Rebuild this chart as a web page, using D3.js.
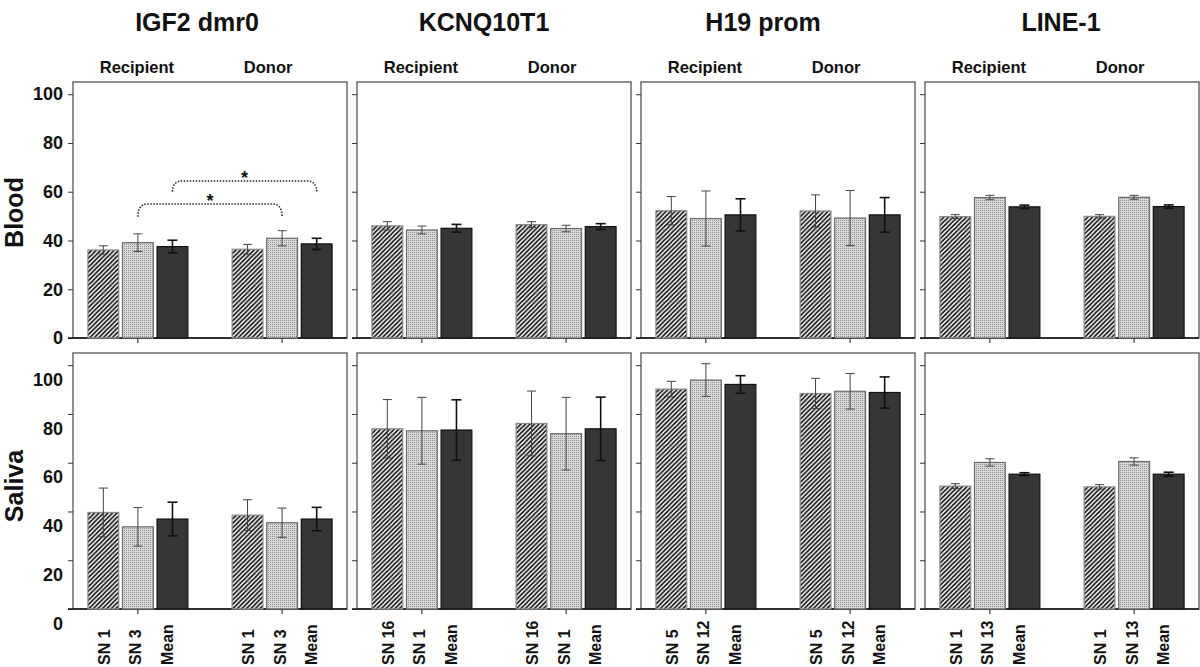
<!DOCTYPE html>
<html><head><meta charset="utf-8">
<script src="https://cdn.jsdelivr.net/npm/d3@7"></script>
<style>
body{margin:0;background:#fff}
svg{display:block;font-family:"Liberation Sans",Arial,Helvetica,sans-serif;font-weight:bold}
</style>
</head><body><svg id="c" width="1200" height="667"></svg>
<script>
// ---------------- data ----------------
const genes = ["IGF2 dmr0", "KCNQ10T1", "H19 prom", "LINE-1"];
const tissues = ["Blood", "Saliva"];
const groups = ["Recipient", "Donor"];
const sampleLabels = [
  ["SN 1", "SN 3", "Mean"],
  ["SN 16", "SN 1", "Mean"],
  ["SN 5", "SN 12", "Mean"],
  ["SN 1", "SN 13", "Mean"]
];
const yTicks = [0, 20, 40, 60, 80, 100];

// [gene][group][sample]
const bloodMeans = [
  [[36.1, 39.1, 37.5], [36.4, 40.9, 38.6]],
  [[46.0, 44.3, 45.0], [46.5, 44.9, 45.7]],
  [[52.2, 49.0, 50.5], [52.1, 49.2, 50.5]],
  [[49.8, 57.6, 53.8], [49.9, 57.7, 53.9]]
];
const bloodErrors = [
  [[1.7, 3.6, 2.6], [2.0, 3.1, 2.3]],
  [[1.7, 1.6, 1.6], [1.2, 1.35, 1.2]],
  [[5.8, 11.3, 6.6], [6.6, 11.3, 7.1]],
  [[0.8, 0.9, 0.7], [0.7, 0.8, 0.7]]
];
const salivaMeans = [
  [[39.6, 33.7, 36.9], [38.5, 35.4, 36.9]],
  [[73.9, 73.1, 73.4], [76.1, 71.9, 73.9]],
  [[90.2, 93.9, 92.1], [88.4, 89.3, 88.8]],
  [[50.4, 60.1, 55.3], [50.1, 60.5, 55.3]]
];
const salivaErrors = [
  [[10.0, 7.9, 6.9], [6.3, 6.0, 4.8]],
  [[12.0, 13.7, 12.4], [13.3, 14.9, 13.0]],
  [[3.2, 6.7, 3.6], [6.2, 7.3, 6.4]],
  [[1.0, 1.5, 0.6], [0.9, 1.5, 0.8]]
];
// significance brackets (IGF2 dmr0, Blood): sample index, bracket top, bracket ends
const sigSample = [1, 2];
const sigTop = [55, 64.4];
const sigEnd = [49.7, 60];
const sigMark = ["*", "*"];

// ---------------- layout ----------------
const svg = d3.select("#c");
const panelW = 274, panelStep = 284, firstLeft = 73;
const rows = [{top: 82, bottom: 338, labelShift: 0, labelY: 212.5},
              {top: 353, bottom: 609, labelShift: 14.5, labelY: 486}];
const titleDx = [-13, -10, -15, -1];
const means = [bloodMeans, salivaMeans];
const errs = [bloodErrors, salivaErrors];

// patterns
const defs = svg.append("defs");
const hatch = defs.append("pattern").attr("id", "hatch").attr("patternUnits", "userSpaceOnUse")
  .attr("width", 4.5).attr("height", 4.5);
hatch.append("rect").attr("width", 4.5).attr("height", 4.5).attr("fill", "#fff");
hatch.append("path").attr("d", "M-1,1 l2,-2 M0,4.5 l4.5,-4.5 M3.5,5.5 l2,-2")
  .attr("stroke", "#111").attr("stroke-width", 1.7);
const stip = defs.append("pattern").attr("id", "stip").attr("patternUnits", "userSpaceOnUse")
  .attr("width", 2).attr("height", 2);
stip.append("rect").attr("width", 2).attr("height", 2).attr("fill", "#d8d8d8");
stip.append("rect").attr("width", 1).attr("height", 1).attr("fill", "#929292");

const fills = ["url(#hatch)", "url(#stip)", "#363636"];
const strokes = ["#8a8a8a", "#6a6a6a", "#111"];
const errStroke = ["#444", "#444", "#111"];
const errWidth = [1, 1, 1.6];

genes.forEach((gene, gi) => {
  const left = firstLeft + gi * panelStep;
  const xg = d3.scaleBand().domain(groups).range([left, left + panelW])
    .paddingInner(0.3).paddingOuter(0.1);
  const xs = d3.scaleBand().domain([0, 1, 2]).range([0, xg.bandwidth()]).paddingInner(0.08);

  // title
  svg.append("text").attr("x", left + panelW / 2 + titleDx[gi]).attr("y", 31)
    .attr("text-anchor", "middle").attr("font-size", 25).attr("fill", "#111").text(gene);

  tissues.forEach((tissue, ti) => {
    const row = rows[ti];
    const y = d3.scaleLinear().domain([0, 105]).range([row.bottom, row.top]);
    const g = svg.append("g");

    // frame
    g.append("rect").attr("x", left).attr("y", row.top).attr("width", panelW)
      .attr("height", row.bottom - row.top).attr("fill", "none")
      .attr("stroke", "#555").attr("stroke-width", 1.3);

    // y axis ticks
    const ya = g.append("g").attr("transform", `translate(${left},0)`)
      .call(d3.axisLeft(y).tickValues(yTicks).tickSize(5).tickPadding(5)
        .tickFormat(gi === 0 ? d3.format("d") : () => ""));
    ya.select(".domain").remove();
    ya.selectAll("line").attr("stroke", "#333");
    ya.selectAll("text").attr("font-size", 18).attr("fill", "#111")
      .attr("font-family", "Liberation Sans, Arial, sans-serif").attr("font-weight", "bold")
      .attr("transform", `translate(0,${row.labelShift})`);

    // x axis
    const xa = g.append("g").attr("transform", `translate(0,${row.bottom})`)
      .call(d3.axisBottom(xg).tickSize(5).tickFormat(() => ""));
    xa.select(".domain").remove();
    xa.selectAll("line").attr("stroke", "#111");
    g.append("line").attr("x1", left - 5).attr("x2", left + panelW)
      .attr("y1", row.bottom).attr("y2", row.bottom).attr("stroke", "#111").attr("stroke-width", 1.5);

    // bars
    groups.forEach((grp, gri) => {
      [0, 1, 2].forEach(si => {
        const v = means[ti][gi][gri][si];
        const e = errs[ti][gi][gri][si];
        const bx = xg(grp) + xs(si), bw = xs.bandwidth();
        g.append("rect").attr("x", bx + 0.5).attr("y", y(v)).attr("width", bw - 1)
          .attr("height", y(0) - y(v)).attr("fill", fills[si])
          .attr("stroke", strokes[si]).attr("stroke-width", 1.2);
        const cx = bx + bw / 2, cap = si === 2 ? 5 : 4.5;
        const eg = g.append("g").attr("stroke", errStroke[si]).attr("stroke-width", errWidth[si]);
        eg.append("line").attr("x1", cx).attr("x2", cx).attr("y1", y(v - e)).attr("y2", y(v + e));
        eg.append("line").attr("x1", cx - cap).attr("x2", cx + cap).attr("y1", y(v + e)).attr("y2", y(v + e));
        eg.append("line").attr("x1", cx - cap).attr("x2", cx + cap).attr("y1", y(v - e)).attr("y2", y(v - e));

        if (ti === 1) {
          const lx = xg(grp) + xg.bandwidth() / 2 + (si - 1) * 31.5 - 2;
          svg.append("text").attr("transform", `translate(${lx},665) rotate(-90)`)
            .attr("dominant-baseline", "central").attr("font-size", 16).attr("fill", "#111")
            .text(sampleLabels[gi][si]);
        }
      });
      if (ti === 0) {
        svg.append("text").attr("x", xg(grp) + xg.bandwidth() / 2 + (gri === 1 ? -14 : -1))
          .attr("y", 73).attr("text-anchor", "middle").attr("font-size", 16.5).attr("fill", "#111").text(grp);
      }
    });

    // significance brackets
    if (gi === 0 && ti === 0) {
      sigSample.forEach((si, k) => {
        const x1 = xg(groups[0]) + xs(si) + xs.bandwidth() / 2;
        const x2 = xg(groups[1]) + xs(si) + xs.bandwidth() / 2;
        const yt = y(sigTop[k]), ye = y(sigEnd[k]);
        g.append("path")
          .attr("d", `M${x1},${ye} Q${x1},${yt} ${x1 + 10},${yt} L${x2 - 10},${yt} Q${x2},${yt} ${x2},${ye}`)
          .attr("fill", "none").attr("stroke", "#222").attr("stroke-width", 1.5)
          .attr("stroke-dasharray", "1.5,1.5");
        g.append("text").attr("x", (x1 + x2) / 2).attr("y", yt + 3).attr("text-anchor", "middle")
          .attr("font-size", 18).attr("fill", "#111").text(sigMark[k]);
      });
    }

    // row label
    if (gi === 0) {
      svg.append("text").attr("transform", `translate(23,${row.labelY}) rotate(-90)`)
        .attr("text-anchor", "middle").attr("font-size", 25).attr("fill", "#111").text(tissue);
    }
  });
});
</script>
</body></html>
